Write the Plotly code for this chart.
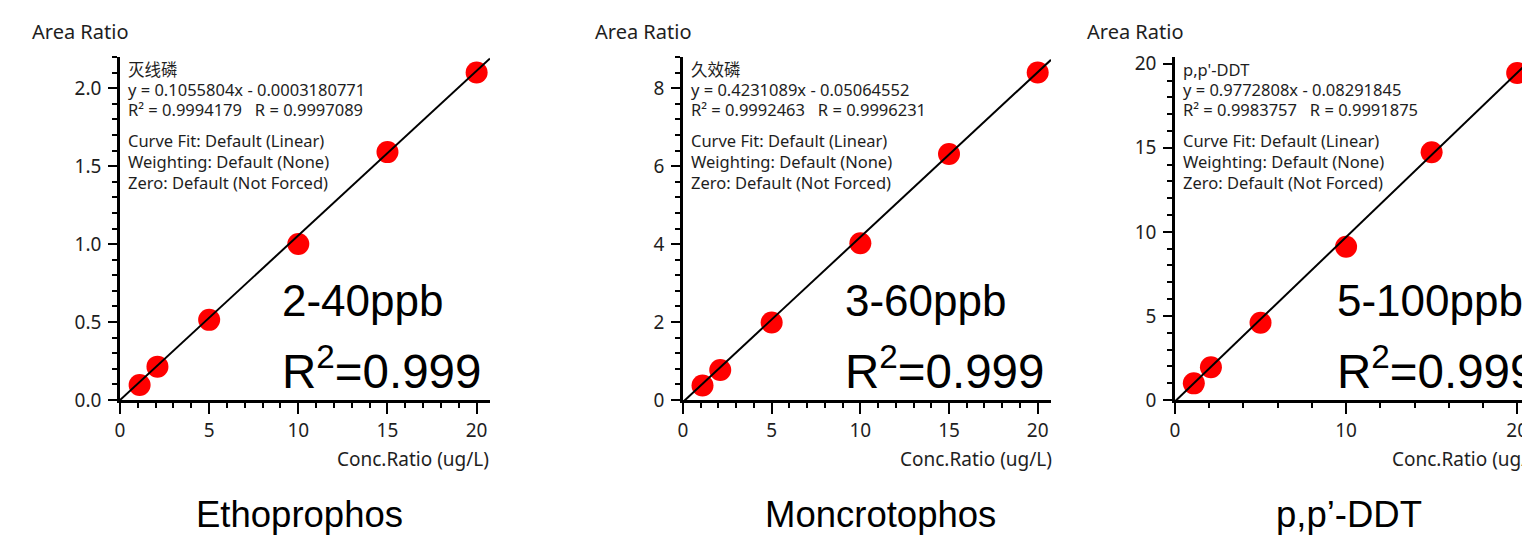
import plotly.graph_objects as go

W, H = 1530, 538
OFF = 8  # page body margin offset of the rendered figure

# ---------------- data ----------------
compounds = ["Ethoprophos", "Moncrotophos", "p,p’-DDT"]
cn_names = ["灭线磷", "久效磷", "p,p'-DDT"]
conc_ratio = [1.1, 2.1, 5.0, 10.0, 15.0, 20.0]
area_ethoprophos = [0.096, 0.214, 0.514, 1.0, 1.59, 2.1]
area_moncrotophos = [0.37, 0.77, 1.99, 4.02, 6.31, 8.40]
area_ddt = [0.99, 1.95, 4.60, 9.12, 14.74, 19.45]
slopes = [0.1055804, 0.4231089, 0.9772808]
intercepts = [-0.0003180771, -0.05064552, -0.08291845]
eq_texts = ["y = 0.1055804x - 0.0003180771",
            "y = 0.4231089x - 0.05064552",
            "y = 0.9772808x - 0.08291845"]
r_texts = ["R² = 0.9994179   R = 0.9997089",
           "R² = 0.9992463   R = 0.9996231",
           "R² = 0.9983757   R = 0.9991875"]
ranges_txt = ["2-40ppb", "3-60ppb", "5-100ppb"]
r2_big = "R<sup>2</sup>=0.999"
fit_info = ["Curve Fit: Default (Linear)", "Weighting: Default (None)",
            "Zero: Default (Not Forced)"]
series = [area_ethoprophos, area_moncrotophos, area_ddt]

# ---------------- layout geometry (target pixels) ----------------
x_left_px = [120, 683, 1175]
x_right_px = [490, 1051, 1530]
x_max = [20.75, 20.75, 20.75]
y_max = [2.2, 8.8, 20.4]
y_dtick = [0.5, 2, 5]
y_minor = [0.1, 0.4, 1]
y_fmt = [".1f", "d", "d"]
x_dtick = [5, 5, 10]
x_minor = [1, 1, 2]
y_top_px, y_bot_px = 57, 400
title_cx = [299, 880, 1349]

def px(x):
    return (x - OFF) / W

def py(y):
    return 1 - (y - OFF) / H

FONT = "Noto Sans, Noto Sans CJK SC, sans-serif"
BIG = "Liberation Sans, Arial, sans-serif"
TXT = "#1e1e1e"

fig = go.Figure()
annotations = []
for i in range(3):
    sfx = "" if i == 0 else str(i + 1)
    xa, ya = "x" + sfx, "y" + sfx
    fig.add_trace(go.Scatter(x=conc_ratio, y=series[i], mode="markers",
                             marker=dict(color="#ff0000", size=22, line=dict(width=0)),
                             xaxis=xa, yaxis=ya, showlegend=False, cliponaxis=False))
    lx = [0, x_max[i]]
    ly = [slopes[i] * v + intercepts[i] for v in lx]
    fig.add_trace(go.Scatter(x=lx, y=ly, mode="lines",
                             line=dict(color="black", width=2),
                             xaxis=xa, yaxis=ya, showlegend=False))
    common = dict(showgrid=False, zeroline=False, showline=True, linecolor="black",
                  linewidth=2.5, ticks="outside", tickcolor="black", tickwidth=2,
                  automargin=False,
                  tickfont=dict(family=FONT, size=19, color=TXT), tick0=0)
    fig.layout["xaxis" + sfx] = dict(
        common, domain=[px(x_left_px[i]), min(1.0, px(x_right_px[i]))], range=[0, x_max[i]],
        anchor=ya, dtick=x_dtick[i], ticklen=11, ticklabelstandoff=0,
        minor=dict(dtick=x_minor[i], tick0=0, ticklen=5, tickwidth=2,
                   tickcolor="black", ticks="outside", showgrid=False))
    fig.layout["yaxis" + sfx] = dict(
        common, domain=[py(y_bot_px), py(y_top_px)], range=[0, y_max[i]],
        anchor=xa, dtick=y_dtick[i], ticklen=9, ticklabelstandoff=3, tickformat=y_fmt[i],
        minor=dict(dtick=y_minor[i], tick0=0, ticklen=5, tickwidth=2,
                   tickcolor="black", ticks="outside", showgrid=False))
    L = x_left_px[i]
    # axis titles
    annotations.append(dict(text="Area Ratio", x=px(L - 90), y=py(31.5), xref="paper",
                            yref="paper", xanchor="left", yanchor="middle", showarrow=False,
                            font=dict(family=FONT, size=20, color=TXT)))
    annotations.append(dict(text="Conc.Ratio (ug/L)", x=px(L + 371), y=py(459), xref="paper",
                            yref="paper", xanchor="right", yanchor="middle", showarrow=False,
                            font=dict(family=FONT, size=19, color=TXT)))
    # info text
    rows = [(cn_names[i], 69.3), (eq_texts[i], 89.5), (r_texts[i].replace(" ", "\u00a0"), 109.3),
            (fit_info[0], 140), (fit_info[1], 161.5), (fit_info[2], 182.5)]
    for t, yy in rows:
        annotations.append(dict(text=t, x=px(L + 6), y=py(yy), xref="paper", yref="paper",
                                xanchor="left", yanchor="middle", showarrow=False,
                                font=dict(family=FONT, size=16.5, color=TXT)))
    # big labels
    annotations.append(dict(text=ranges_txt[i], x=px(L + 160), y=py(300), xref="paper",
                            yref="paper", xanchor="left", yanchor="middle", showarrow=False,
                            font=dict(family=BIG, size=44, color="black")))
    annotations.append(dict(text=r2_big, x=px(L + 160), y=py(367.5), xref="paper",
                            yref="paper", xanchor="left", yanchor="middle", showarrow=False,
                            font=dict(family=BIG, size=47.5, color="black")))
    annotations.append(dict(text=compounds[i], x=px(title_cx[i]), y=py(514), xref="paper",
                            yref="paper", xanchor="center", yanchor="middle", showarrow=False,
                            font=dict(family=BIG, size=36.5, color="black")))

fig.update_layout(width=W, height=H, margin=dict(l=0, r=0, t=0, b=0, autoexpand=False),
                  paper_bgcolor="white", plot_bgcolor="white",
                  annotations=annotations, showlegend=False)
fig.write_html("out.html")
